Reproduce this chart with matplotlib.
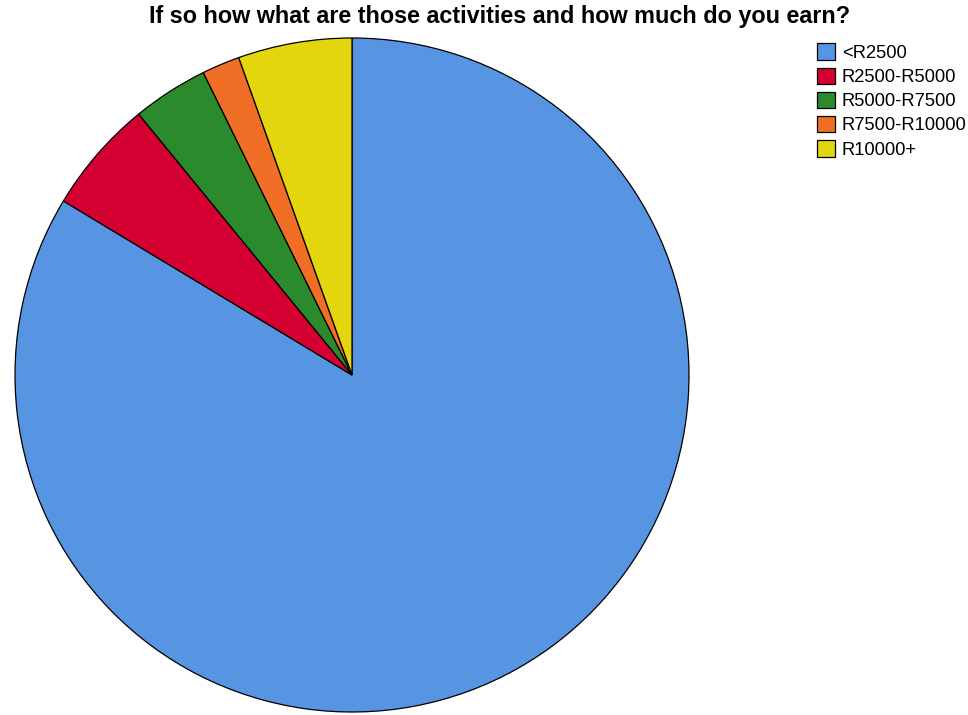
import matplotlib.pyplot as plt

# earnings brackets and number of respondents in each
labels = ['<R2500', 'R2500-R5000', 'R5000-R7500', 'R7500-R10000', 'R10000+']
counts = [46, 3, 2, 1, 3]
colors = ['#5795E3', '#D50032', '#2B8A2B', '#F06E26', '#E3D60F']

plt.rcParams['font.family'] = ['Liberation Sans', 'DejaVu Sans']

W, H = 968, 715
fig = plt.figure(figsize=(W / 100, H / 100), dpi=100)

# square axes holding the pie (centre ~ (352, 375) px, radius ~337 px)
cx, cy, r = 352, 375, 337
ax = fig.add_axes([(cx - r) / W, (H - cy - r) / H, 2 * r / W, 2 * r / H])
wedges, _ = ax.pie(counts, colors=colors, startangle=90, counterclock=False,
                   radius=1.0,
                   wedgeprops=dict(edgecolor='black', linewidth=0.9))
ax.set_xlim(-1.0, 1.0)
ax.set_ylim(-1.0, 1.0)
ax.set_aspect('equal')
ax.axis('off')

fig.text(500 / W, 1 - 17 / H, 'If so how what are those activities and how much do you earn?',
         ha='center', va='center', fontsize=16.8, fontweight='bold')

fig.legend(wedges, labels, loc='upper left',
           bbox_to_anchor=(817 / W, 1 - 43.5 / H), bbox_transform=fig.transFigure,
           frameon=False, fontsize=13.2, handlelength=1.0, handleheight=1.0,
           handletextpad=0.35, labelspacing=0.31, borderpad=0, borderaxespad=0)

fig.savefig('out.png', dpi=100, facecolor='white')
